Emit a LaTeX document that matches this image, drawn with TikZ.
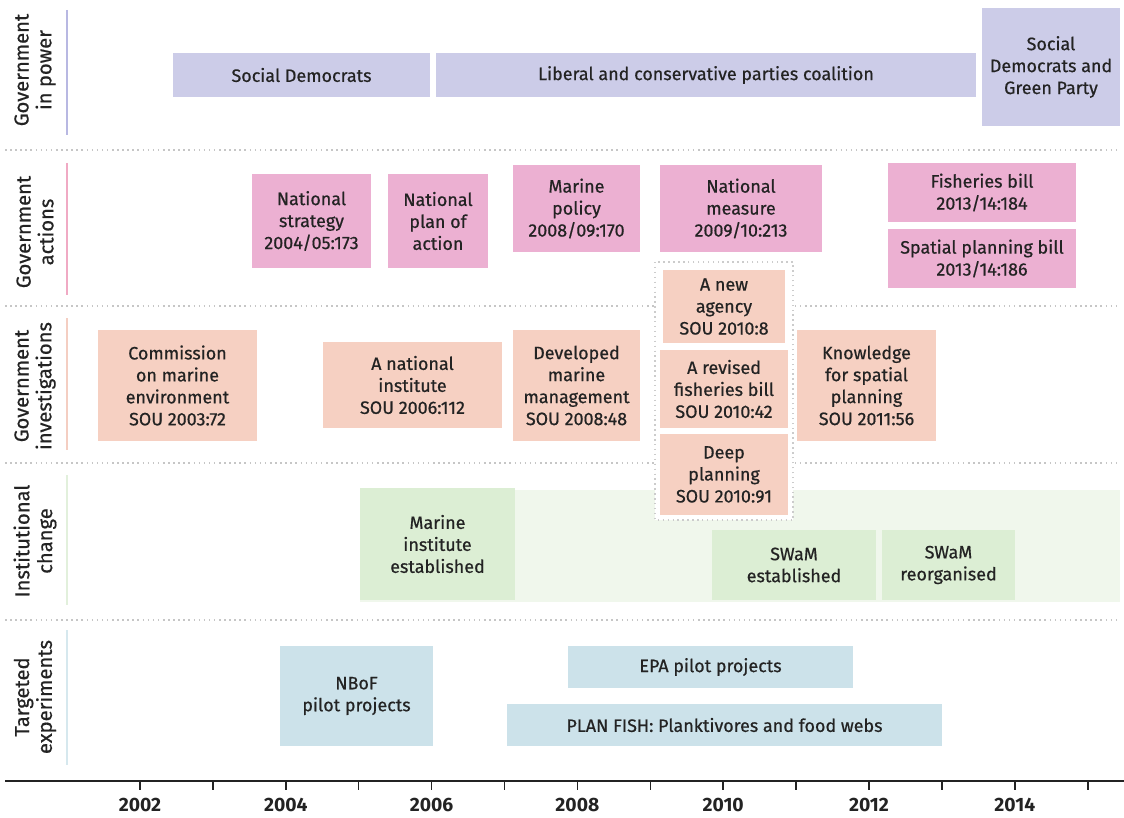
\documentclass[tikz,border=0pt]{standalone}
\usepackage{fontspec}
\setmainfont{Fira Sans}
\newfontfamily\medfont{Fira Sans}[FakeBold=0.6]
\definecolor{powerfill}{RGB}{204,204,232}
\definecolor{powerline}{RGB}{184,184,226}
\definecolor{actfill}{RGB}{236,176,210}
\definecolor{actline}{RGB}{240,170,196}
\definecolor{invfill}{RGB}{246,208,194}
\definecolor{invline}{RGB}{244,206,194}
\definecolor{instfill}{RGB}{220,238,212}
\definecolor{instband}{RGB}{240,247,236}
\definecolor{instline}{RGB}{226,240,220}
\definecolor{expfill}{RGB}{204,226,234}
\definecolor{expline}{RGB}{214,232,238}
\definecolor{textc}{RGB}{35,35,35}
\tikzset{
    evbox/.style={inner sep=0pt, align=center, text=textc,
        font=\medfont\fontsize{10.2}{12.5}\selectfont},
    powerbox/.style={evbox, fill=powerfill},
    actbox/.style={evbox, fill=actfill},
    invbox/.style={evbox, fill=invfill},
    instbox/.style={evbox, fill=instfill},
    expbox/.style={evbox, fill=expfill},
    rowlabel/.style={rotate=90, align=center, text=textc,
        font=\medfont\fontsize{11.5}{13}\selectfont},
    rowsep/.style={gray!45, dotted, line width=0.9pt},
    yearlabel/.style={text=textc, font=\fontsize{11}{13}\selectfont\bfseries}
}
\begin{document}
\begin{tikzpicture}[x=0.02cm, y=-0.02cm]
    \useasboundingbox (0,0) rectangle (1124,817);

    \draw[powerline, line width=1.6pt] (67,10) -- (67,135);
    \draw[actline, line width=1.6pt] (67,163) -- (67,295);
    \draw[invline, line width=1.6pt] (67,318) -- (67,450);
    \draw[instline, line width=1.6pt] (67,475) -- (67,605);
    \draw[expline, line width=1.6pt] (67,630) -- (67,765);
    \node[rowlabel] (lpower) at (35,70) {Government\\in power};
    \node[rowlabel] (lact) at (35,232) {Government\\actions};
    \node[rowlabel] (linv) at (35,386) {Government\\investigations};
    \node[rowlabel] (linst) at (35,541) {Institutional\\change};
    \node[rowlabel] (lexp) at (35,697) {Targeted\\experiments};

    \foreach \y in {150,306,463,620}
        \draw[rowsep] (5,\y) -- (1120,\y);

    \node[powerbox, minimum width=5.14cm, minimum height=0.88cm] (sd) at (301.5,75) {Social Democrats};
    \node[powerbox, minimum width=10.8cm, minimum height=0.88cm] (lib) at (706,75) {Liberal and conservative parties coalition};
    \node[powerbox, minimum width=2.76cm, minimum height=2.36cm] (sdg) at (1051,67) {Social\\Democrats and\\Green Party};

    \node[actbox, minimum width=2.38cm, minimum height=1.88cm] (natstrat) at (311.5,221) {National\\strategy\\2004/05:173};
    \node[actbox, minimum width=2.0cm, minimum height=1.88cm] (natplan) at (438,221) {National\\plan of\\action};
    \node[actbox, minimum width=2.54cm, minimum height=1.74cm] (marpol) at (576.5,208.5) {Marine\\policy\\2008/09:170};
    \node[actbox, minimum width=3.24cm, minimum height=1.74cm] (natmeas) at (741,208.5) {National\\measure\\2009/10:213};
    \node[actbox, minimum width=3.76cm, minimum height=1.18cm] (fishbill) at (982,192.5) {Fisheries bill\\2013/14:184};
    \node[actbox, minimum width=3.76cm, minimum height=1.18cm] (spatbill) at (982,258.5) {Spatial planning bill\\2013/14:186};

    \fill[instband] (360,490) rectangle (1120,602);
    \node[instbox, minimum width=3.1cm, minimum height=2.24cm] (marinst) at (437.5,544) {Marine\\institute\\established};
    \node[instbox, minimum width=3.28cm, minimum height=1.4cm] (swamest) at (794,565) {SWaM\\established};
    \node[instbox, minimum width=2.66cm, minimum height=1.4cm] (swamreorg) at (948.5,565) {SWaM\\reorganised};

    \node[invbox, minimum width=3.18cm, minimum height=2.22cm] (commission) at (177.5,385.5) {Commission\\on marine\\environment\\SOU 2003:72};
    \node[invbox, minimum width=3.58cm, minimum height=1.72cm] (natinst) at (412.5,385) {A national\\institute\\SOU 2006:112};
    \node[invbox, minimum width=2.54cm, minimum height=2.22cm] (devmar) at (576.5,385.5) {Developed\\marine\\management\\SOU 2008:48};
    \fill[white] (655,262) rectangle (793,520);
    \draw[gray!40, dotted, line width=0.8pt] (655,262) rectangle (793,520);
    \node[invbox, minimum width=2.44cm, minimum height=1.46cm] (newag) at (724,306.5) {A new\\agency\\SOU 2010:8};
    \node[invbox, minimum width=2.56cm, minimum height=1.56cm] (revfish) at (724,389) {A revised\\fisheries bill\\SOU 2010:42};
    \node[invbox, minimum width=2.56cm, minimum height=1.62cm] (deep) at (724,474.5) {Deep\\planning\\SOU 2010:91};
    \node[invbox, minimum width=2.78cm, minimum height=2.22cm] (knowledge) at (866.5,385.5) {Knowledge\\for spatial\\planning\\SOU 2011:56};

    \node[expbox, minimum width=3.06cm, minimum height=2.0cm] (nbof) at (356.5,696) {NBoF\\pilot projects};
    \node[expbox, minimum width=5.7cm, minimum height=0.84cm] (epa) at (710.5,667) {EPA pilot projects};
    \node[expbox, minimum width=8.7cm, minimum height=0.84cm] (planfish) at (724.5,725) {PLAN FISH: Planktivores and food webs};

    \draw[textc, line width=1.1pt] (5,781) -- (1124,781);
    \foreach \i in {0,...,13}
        \draw[textc, line width=0.9pt] (140+72.9*\i,781) -- (140+72.9*\i,790);
    \foreach \yr [count=\i from 0] in {2002,2004,...,2014}
        \node[yearlabel] (y\yr) at (140+145.8*\i,805) {\yr};
\end{tikzpicture}
\end{document}
